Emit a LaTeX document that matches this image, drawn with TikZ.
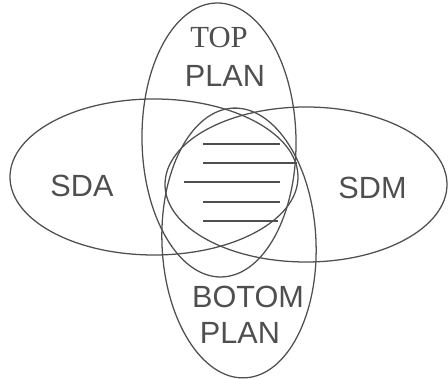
\documentclass[tikz,border=0pt]{standalone}
\usepackage{fontspec}
\setmainfont{Liberation Sans}
\newfontfamily\serifface{Liberation Serif}
\usetikzlibrary{positioning}
\definecolor{vink}{HTML}{4F4F4F}
\tikzset{
  venn/.style={draw=vink, line width=0.9pt},
  hatch/.style={draw=vink, line width=0.9pt},
  lbl/.style={text=vink, inner sep=0pt, font=\fontsize{21.8}{26}\selectfont}
}

\begin{document}
\begin{tikzpicture}[x=0.025cm, y=0.025cm]
  \useasboundingbox (0,0) rectangle (448,379);
  % the four sets
  \draw[venn, rotate around={1:(219,239)}] (219,239) ellipse [x radius=77, y radius=137];
  \draw[venn, rotate around={2.5:(239,136)}] (239,136) ellipse [x radius=77, y radius=135];
  \draw[venn] (154,202) ellipse [x radius=144, y radius=78];
  \draw[venn] (306,194.5) ellipse [x radius=141, y radius=77.5];

  % common part
  \foreach \y/\xa/\xb in {235/203/280, 216/203/297, 197/184/280, 177/203/280, 158/203/278}
    \draw[hatch] (\xa,\y) -- (\xb,\y);

  \node[lbl] (top) at (219,341.5) {\serifface TOP};
  \node[lbl] (topplan) at (225,303.5) {PLAN};
  \node[lbl] (sda) at (82,193) {SDA};
  \node[lbl] (sdm) at (372.5,191.5) {SDM};
  \node[lbl] (botom) at (248,82) {BOTOM};
  \node[lbl] (botplan) at (240,46) {PLAN};
\end{tikzpicture}
\end{document}
